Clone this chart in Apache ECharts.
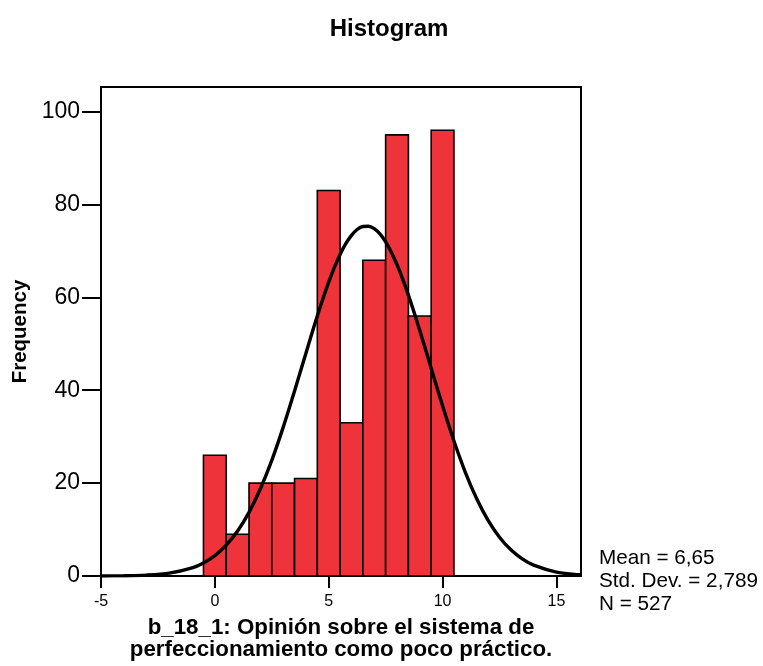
<!DOCTYPE html>
<html><head><meta charset="utf-8">
<script src="https://cdn.jsdelivr.net/npm/echarts@6/dist/echarts.min.js"></script>
<style>html,body{margin:0;padding:0;background:#fff}#c{width:763px;height:666px}</style>
</head><body><div id="c"></div>
<script>
// Histogram bins (value of each bin centre) and frequencies
var binCentres = [0, 1, 2, 3, 4, 5, 6, 7, 8, 9, 10];
var frequencies = [26, 9, 20, 20, 21, 83, 33, 68, 95, 56, 96];
var binWidth = 1;
// Normal curve points
var curveX = [-5, -4, -3, -2, -1, -0.5, 0, 0.5, 1, 1.5, 2, 2.5, 3, 3.5, 4, 4.25, 4.5, 4.75, 5, 5.25, 5.5, 5.75, 6, 6.25, 6.5, 6.75, 7, 7.25, 7.5, 7.75, 8, 8.25, 8.5, 8.75, 9, 9.25, 9.5, 10, 10.5, 11, 11.5, 12, 12.5, 13, 13.5, 14, 15, 16, 16.1];
var curveY = [0.01, 0.05, 0.19, 0.61, 1.75, 2.82, 4.39, 6.63, 9.69, 13.7, 18.78, 24.91, 32.01, 39.83, 47.99, 52.05, 56.01, 59.77, 63.28, 66.45, 69.24, 71.56, 73.36, 74.61, 75.27, 75.33, 74.79, 73.66, 71.96, 69.74, 67.05, 63.94, 60.49, 56.77, 52.86, 48.81, 44.72, 36.64, 29.07, 22.34, 16.62, 11.97, 8.35, 5.64, 3.69, 2.34, 0.85, 0.27, 0.24];
var xTicks = [-5, 0, 5, 10, 15];
var yTicks = [0, 20, 40, 60, 80, 100];
var statsLines = ['Mean = 6,65', 'Std. Dev. = 2,789', 'N = 527'];
var titleText = 'Histogram';
var xTitle = 'b_18_1: Opinión sobre el sistema de\nperfeccionamiento como poco práctico.';
var yTitle = 'Frequency';

var chart = echarts.init(document.getElementById('c'), null, {renderer: 'canvas'});
var histData = binCentres.map(function (c, i) { return [c, frequencies[i]]; });
var curveData = curveX.map(function (x, i) { return [x, curveY[i]]; });
var font = 'Liberation Sans, Arial, sans-serif';

chart.setOption({
  animation: false,
  backgroundColor: '#fff',
  title: {
    text: titleText, left: 384, top: 12, textAlign: 'center',
    textStyle: {fontFamily: font, fontWeight: 'bold', fontSize: 24, color: '#000'}
  },
  grid: {left: 101, right: 182, top: 87, bottom: 86, show: true, borderColor: '#000', borderWidth: 2, backgroundColor: 'transparent'},
  xAxis: {
    type: 'value', min: -5, max: 16.08, interval: 5,
    axisLine: {show: true, onZero: false, lineStyle: {color: '#000', width: 2}},
    axisTick: {show: true, length: 12, lineStyle: {color: '#000', width: 2}},
    axisLabel: {
      fontFamily: font, fontSize: 16, color: '#000', margin: 18,
      showMaxLabel: false,
      formatter: function (v) { return xTicks.indexOf(v) >= 0 ? String(v) : ''; }
    },
    splitLine: {show: false},
    name: xTitle, nameLocation: 'middle', nameGap: 41,
    nameTextStyle: {fontFamily: font, fontWeight: 'bold', fontSize: 22.3, color: '#000', lineHeight: 22}
  },
  yAxis: {
    type: 'value', min: 0, max: 105.3, interval: 20,
    axisLine: {show: true, onZero: false, lineStyle: {color: '#000', width: 2}},
    axisTick: {show: true, length: 19, lineStyle: {color: '#000', width: 2}},
    axisLabel: {
      fontFamily: font, fontSize: 23, color: '#000', margin: 21,
      showMaxLabel: false,
      formatter: function (v) { return yTicks.indexOf(v) >= 0 ? String(v) : ''; }
    },
    splitLine: {show: false},
    name: yTitle, nameLocation: 'middle', nameGap: 62, nameRotate: 90,
    nameTextStyle: {fontFamily: font, fontWeight: 'bold', fontSize: 20.5, color: '#000'}
  },
  graphic: [
    {
      type: 'text', left: 599, top: 547,
      style: {text: statsLines.join('\n'), fontFamily: font, fontSize: 20.7, lineHeight: 23, fill: '#000'}
    }
  ],
  series: [
    {
      type: 'custom',
      data: histData,
      clip: true,
      renderItem: function (params, api) {
        var c = api.value(0), f = api.value(1);
        var p0 = api.coord([c - binWidth / 2, 0]);
        var p1 = api.coord([c + binWidth / 2, f]);
        return {
          type: 'rect',
          shape: {x: p0[0], y: p1[1], width: p1[0] - p0[0], height: p0[1] - p1[1]},
          style: {fill: '#EF333B', stroke: '#000', lineWidth: 1.6}
        };
      },
      z: 2
    },
    {
      type: 'line', data: curveData, smooth: 0.3, showSymbol: false, clip: true,
      lineStyle: {color: '#000', width: 3.4}, z: 3
    }
  ]
});
</script>
</body></html>
